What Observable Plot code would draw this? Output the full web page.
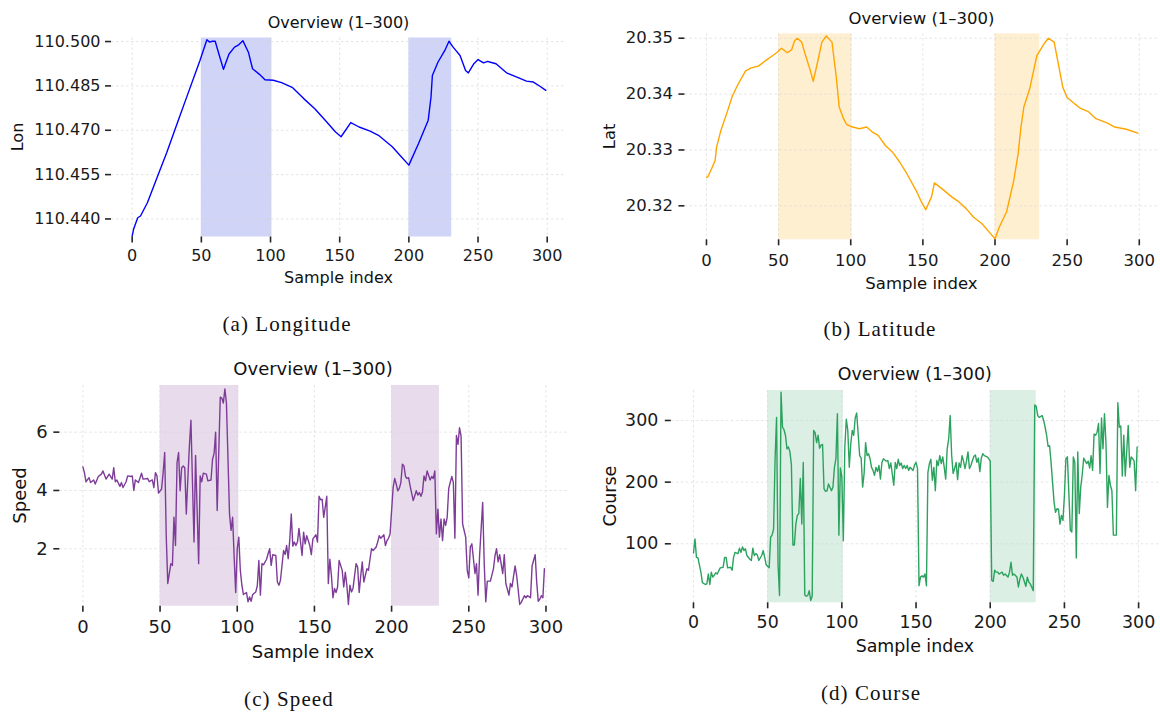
<!DOCTYPE html>
<html>
<head>
<meta charset="utf-8">
<script src="https://cdn.jsdelivr.net/npm/d3@7"></script>
<script src="https://cdn.jsdelivr.net/npm/@observablehq/plot@0.6"></script>
<style>
  html, body { margin: 0; padding: 0; background: #fff; }
  #root { position: relative; width: 1160px; height: 715px; overflow: hidden; background: #fff; }
  .panel { position: absolute; }
  #overlay { position: absolute; left: 0; top: 0; pointer-events: none; }
</style>
</head>
<body>
<div id="root"></div>
<script>
// ---------------- DATA ----------------
const xTicks = [0, 50, 100, 150, 200, 250, 300];
const highlightSpans = [[50, 101], [200, 231]];

const lonTicks = [110.44, 110.455, 110.47, 110.485, 110.5];
const latTicks = [20.32, 20.33, 20.34, 20.35];
const speedTicks = [2, 4, 6];
const courseTicks = [100, 200, 300];

// [sample index, longitude]
const lonData = [
  [0,110.4342],[1,110.4365],[4,110.4404],[6,110.4410],[11,110.4455],[18,110.4540],[25,110.4625],
  [34,110.4742],[39,110.4807],[49,110.4936],[54,110.5006],[56,110.4998],[58,110.5001],[60,110.5001],
  [63,110.4953],[66,110.4906],[70,110.4958],[74,110.4981],[77,110.4989],[80,110.5003],[84,110.4964],
  [87,110.4908],[92,110.4889],[96,110.4871],[102,110.4869],[108,110.4861],[116,110.4844],[124,110.4807],
  [132,110.4773],[140,110.4731],[147,110.4694],[151,110.4678],[158,110.4726],[164,110.4711],[172,110.4697],
  [178,110.4683],[188,110.4644],[195,110.4608],[200,110.4582],[207,110.4655],[214,110.4734],[216,110.4812],
  [217,110.4885],[221,110.4930],[226,110.4970],[229,110.5001],[232,110.4981],[237,110.4953],[241,110.4902],
  [243,110.4894],[247,110.4925],[250,110.4939],[254,110.4928],[257,110.4933],[259,110.4930],[263,110.4925],
  [271,110.4893],[279,110.4878],[285,110.4866],[290,110.4863],[295,110.4848],[299,110.4835]
];

// [sample index, latitude]
const latData = [
  [0,20.3251],[1,20.3252],[4,20.3269],[6,20.3281],[7,20.3305],[10,20.3335],[14,20.3365],[18,20.3397],
  [22,20.3418],[27,20.3441],[31,20.3447],[36,20.3450],[41,20.3460],[46,20.3469],[49,20.3475],[52,20.3482],
  [56,20.3474],[59,20.3479],[61,20.3495],[63,20.3500],[66,20.3493],[68,20.3475],[72,20.3442],[74,20.3423],
  [77,20.3457],[80,20.3493],[83,20.3504],[87,20.3493],[90,20.3430],[92,20.3377],[95,20.3356],[97,20.3346],
  [100,20.3342],[106,20.3338],[111,20.3341],[115,20.3332],[119,20.3326],[124,20.3308],[129,20.3296],
  [134,20.3278],[139,20.3257],[146,20.3224],[149,20.3207],[152,20.3193],[156,20.3216],[158,20.3241],
  [164,20.3229],[170,20.3216],[175,20.3207],[180,20.3195],[185,20.3180],[191,20.3168],[196,20.3153],
  [200,20.3141],[203,20.3162],[208,20.3189],[213,20.3245],[216,20.3293],[218,20.3341],[220,20.3377],
  [224,20.3409],[229,20.3469],[234,20.3490],[237,20.3500],[241,20.3493],[243,20.3466],[247,20.3412],
  [250,20.3394],[255,20.3383],[259,20.3375],[265,20.3368],[270,20.3356],[278,20.3348],[283,20.3341],
  [291,20.3337],[299,20.3330]
];

// [sample index, speed]
const speedData = [
  [0,4.81],[1,4.61],[2,4.30],[4,4.44],[5,4.27],[7,4.36],[8,4.22],[10,4.48],[12,4.56],[13,4.67],[15,4.39],
  [17,4.56],[19,4.39],[20,4.78],[21,4.30],[22,4.36],[24,4.14],[25,4.27],[26,4.10],[28,4.30],[29,4.50],
  [31,4.48],[32,4.50],[33,4.00],[34,4.36],[36,4.27],[38,4.59],[39,4.39],[42,4.41],[43,4.30],[45,4.36],
  [46,4.10],[47,4.61],[48,4.50],[49,3.91],[51,4.05],[52,4.61],[53,5.30],[54,2.45],[55,0.81],[57,1.49],
  [58,1.43],[59,3.08],[60,2.11],[61,4.95],[62,5.30],[63,3.99],[64,4.78],[65,4.84],[66,4.78],[67,3.19],
  [68,4.39],[69,5.52],[70,6.41],[71,4.27],[72,2.23],[73,5.20],[75,1.49],[76,4.50],[77,4.30],[78,4.59],
  [80,4.56],[81,4.33],[83,4.36],[84,5.07],[85,5.27],[86,6.00],[87,3.31],[89,7.20],[90,7.17],[91,7.00],
  [92,7.48],[93,7.00],[95,3.19],[96,2.63],[97,3.08],[98,1.72],[99,0.50],[100,2.00],[101,2.40],[102,1.26],
  [103,0.75],[104,0.43],[106,0.50],[107,0.18],[108,0.35],[109,0.20],[110,0.43],[112,0.52],[113,0.73],
  [114,1.60],[115,0.41],[116,1.49],[117,1.45],[119,1.64],[120,1.83],[121,2.00],[122,1.43],[123,1.80],
  [125,1.77],[126,0.86],[127,0.75],[128,0.92],[130,1.94],[131,1.80],[132,2.11],[133,1.66],[134,2.28],
  [135,3.19],[136,2.09],[137,2.23],[138,2.11],[139,2.23],[140,2.70],[142,1.77],[143,2.57],[144,2.17],
  [145,2.45],[147,2.11],[148,1.80],[149,2.34],[151,2.48],[152,2.23],[153,3.80],[154,3.68],[155,3.70],
  [156,3.08],[157,3.42],[158,3.80],[159,0.81],[160,1.64],[161,1.09],[162,0.32],[163,0.64],[164,0.50],
  [165,0.69],[166,1.60],[168,1.26],[169,0.69],[170,1.20],[171,0.75],[172,0.09],[173,0.75],[174,0.52],
  [175,0.64],[177,1.49],[178,1.37],[179,0.50],[180,1.07],[181,1.55],[182,0.86],[184,1.32],[185,1.26],
  [186,1.64],[187,2.00],[188,1.94],[190,2.06],[191,2.23],[192,2.45],[193,2.36],[195,2.48],[196,2.11],
  [197,2.28],[198,2.36],[199,2.51],[201,4.10],[202,4.41],[203,4.22],[204,3.99],[205,4.07],[206,4.27],
  [207,4.90],[208,4.84],[209,4.48],[210,4.41],[211,4.44],[212,4.16],[214,3.65],[215,3.82],[216,3.99],
  [217,3.84],[218,3.93],[219,3.80],[220,3.95],[221,4.50],[222,4.33],[223,4.67],[225,4.36],[226,4.48],
  [227,4.41],[228,4.67],[229,2.51],[230,3.36],[231,2.40],[232,3.02],[233,2.28],[234,3.02],[235,2.80],
  [236,3.08],[237,4.07],[239,4.48],[240,4.27],[241,2.36],[242,5.89],[243,5.58],[244,6.15],[245,5.86],
  [246,2.85],[248,2.40],[249,1.26],[250,1.00],[251,2.06],[252,2.17],[254,1.15],[255,1.49],[256,0.41],
  [257,1.77],[259,3.59],[260,1.49],[261,0.18],[262,0.89],[264,0.89],[266,1.32],[267,1.77],[268,2.00],
  [269,1.55],[270,1.80],[272,1.15],[273,1.80],[274,0.81],[276,0.41],[277,0.81],[278,0.69],[280,1.41],
  [281,1.09],[283,0.09],[284,0.16],[286,0.39],[287,0.32],[288,0.39],[290,0.32],[291,1.41],[293,1.80],
  [294,0.86],[295,0.20],[296,0.27],[297,0.39],[298,0.32],[299,1.32]
];

// [sample index, course]
const courseData = [
  [0,85],[1,108],[2,78],[3,77],[5,54],[6,37],[8,34],[9,35],[10,51],[11,34],[12,54],[13,46],[14,49],[15,53],
  [16,51],[18,61],[20,62],[21,78],[22,78],[23,61],[25,62],[26,57],[27,78],[28,86],[30,84],[31,93],[32,86],
  [33,95],[34,89],[35,92],[36,81],[38,75],[39,73],[40,93],[41,81],[42,84],[43,82],[44,73],[46,81],[47,89],
  [48,78],[49,66],[51,61],[52,111],[53,114],[54,124],[55,238],[56,305],[57,66],[58,16],[59,346],[60,289],
  [61,285],[62,276],[63,254],[64,257],[65,249],[66,228],[67,98],[68,98],[69,132],[70,146],[71,149],[72,206],
  [73,132],[74,232],[75,17],[76,15],[77,16],[78,24],[79,8],[80,15],[81,284],[82,280],[83,264],[84,276],
  [85,255],[86,260],[87,261],[88,189],[89,185],[90,186],[91,197],[93,186],[94,192],[95,224],[96,238],
  [97,311],[98,114],[99,223],[100,208],[101,105],[102,257],[103,302],[104,284],[105,224],[106,262],
  [107,284],[108,276],[109,304],[110,312],[111,278],[112,243],[113,239],[114,192],[115,214],[116,264],
  [117,243],[118,246],[119,238],[120,224],[121,219],[122,211],[123,224],[124,217],[125,227],[126,205],
  [127,232],[128,238],[130,234],[131,235],[132,222],[133,231],[134,213],[135,195],[136,232],[137,222],
  [138,237],[139,227],[140,231],[141,222],[142,227],[143,222],[144,227],[145,219],[146,224],[148,219],
  [149,228],[150,232],[151,222],[152,32],[153,46],[154,48],[155,46],[156,51],[157,32],[158,216],[159,230],
  [160,237],[161,203],[162,224],[163,186],[164,235],[165,227],[166,243],[167,230],[168,241],[169,224],
  [170,205],[171,254],[172,270],[173,308],[174,244],[175,214],[176,222],[177,232],[178,204],[179,231],
  [180,224],[181,243],[182,234],[183,222],[184,234],[185,249],[186,222],[187,227],[188,235],[189,242],
  [190,244],[191,232],[192,239],[193,217],[194,239],[195,246],[196,243],[198,241],[199,238],[200,234],
  [201,41],[202,39],[203,57],[204,54],[205,54],[206,51],[208,54],[209,49],[210,51],[212,46],[213,54],
  [214,70],[215,49],[216,51],[218,46],[219,30],[220,43],[221,51],[222,46],[224,31],[225,46],[226,38],
  [227,35],[229,24],[230,325],[231,323],[232,308],[233,305],[235,308],[236,300],[237,289],[238,276],
  [239,258],[240,259],[241,232],[242,200],[243,168],[244,151],[245,157],[246,156],[247,132],[248,146],
  [249,138],[250,178],[251,238],[252,241],[254,122],[255,119],[256,241],[257,232],[258,77],[259,249],
  [260,149],[261,192],[262,212],[263,239],[265,230],[266,234],[267,223],[268,243],[269,219],[270,278],
  [271,276],[272,281],[273,295],[274,214],[275,304],[276,254],[277,311],[278,264],[279,159],[280,211],
  [281,195],[282,186],[283,114],[284,114],[285,114],[286,329],[287,289],[288,291],[289,210],[290,276],
  [291,210],[292,251],[293,292],[294,224],[295,241],[296,238],[297,234],[298,186],[299,257]
];

// ---------------- LAYOUT ----------------
const FONT = "'DejaVu Sans', sans-serif";
const panels = [
  { data: lonData, yTicks: lonTicks, fmt: d3.format(".3f"), color: "#0000ff", fill: "#3344dd", fillOpacity: 0.23,
    left: 0, top: 0, width: 580, height: 300, mL: 111, mR: 14, mT: 37.5, mB: 63.5,
    xDomain: [-14.95, 313.95], yDomain: [110.4339, 110.5012], fs: 16, xPad: 7, yPad: 5,
    title: [338.5, 28], ylab: ["Lon", 23, 137], xlab: [338.5, 283], cap: ["(a) Longitude", 287, 331] },
  { data: latData, yTicks: latTicks, fmt: d3.format(".2f"), color: "#ffa500", fill: "#ffa500", fillOpacity: 0.18,
    left: 580, top: 0, width: 580, height: 300, mL: 104.4, mR: 1.1, mT: 33.3, mB: 60.7,
    xDomain: [-14.95, 313.95], yDomain: [20.31392, 20.35079], fs: 16.5, xPad: 8, yPad: 6,
    title: [921.5, 24], ylab: ["Lat", 615, 136.3], xlab: [921.5, 288.5], cap: ["(b) Latitude", 880, 336] },
  { data: speedData, yTicks: speedTicks, fmt: d3.format("d"), color: "#7d3c98", fill: "#7d3c98", fillOpacity: 0.18,
    left: 0, top: 355, width: 580, height: 300, mL: 59.3, mR: 13, mT: 30, mB: 49.3,
    xDomain: [-14.95, 313.95], yDomain: [0.03, 7.6], fs: 18, xPad: 8.5, yPad: 6,
    title: [313, 375], ylab: ["Speed", 25.5, 495.5], xlab: [313, 657.5], cap: ["(c) Speed", 289, 706] },
  { data: courseData, yTicks: courseTicks, fmt: d3.format("d"), color: "#2ca25f", fill: "#2ca25f", fillOpacity: 0.17,
    left: 580, top: 355, width: 580, height: 300, mL: 90.8, mR: 1.2, mT: 35, mB: 52.7,
    xDomain: [-14.95, 313.95], yDomain: [4.3, 348.6], fs: 17.4, xPad: 6.5, yPad: 7,
    title: [914.8, 380.4], ylab: ["Course", 616, 496.2], xlab: [914.8, 652], cap: ["(d) Course", 871, 700] }
];

const root = document.getElementById("root");
const GRID = { stroke: "#d6d6d6", strokeOpacity: 1, strokeWidth: 0.65, strokeDasharray: "2.5,2.5" };

for (const p of panels) {
  const chart = Plot.plot({
    width: p.width, height: p.height,
    marginLeft: p.mL, marginRight: p.mR, marginTop: p.mT, marginBottom: p.mB,
    style: { fontFamily: FONT, fontSize: p.fs + "px", color: "#1a1a1a", background: "transparent", overflow: "visible" },
    x: { domain: p.xDomain },
    y: { domain: p.yDomain },
    marks: [
      Plot.rect(highlightSpans, {
        x1: d => d[0], x2: d => d[1],
        y1: () => p.yDomain[0], y2: () => p.yDomain[1],
        fill: p.fill, fillOpacity: p.fillOpacity
      }),
      Plot.gridX(xTicks, GRID),
      Plot.gridY(p.yTicks, GRID),
      Plot.line(p.data, { x: d => d[0], y: d => d[1], stroke: p.color, strokeWidth: 1.4 }),
      Plot.axisX(xTicks, { tickSize: 6, tickPadding: p.xPad, tickFormat: d => String(d), label: null,
        stroke: "#262626", strokeWidth: 1.6, fill: "#1a1a1a", fontSize: p.fs }),
      Plot.axisY(p.yTicks, { tickSize: 6, tickPadding: p.yPad, tickFormat: p.fmt, label: null,
        stroke: "#262626", strokeWidth: 1.6, fill: "#1a1a1a", fontSize: p.fs })
    ]
  });
  const wrap = document.createElement("div");
  wrap.className = "panel";
  wrap.style.left = p.left + "px";
  wrap.style.top = p.top + "px";
  wrap.appendChild(chart);
  root.appendChild(wrap);
}

// ---------------- TEXT OVERLAY ----------------
const svg = d3.select(root).append("svg")
  .attr("id", "overlay").attr("width", 1160).attr("height", 715);

for (const p of panels) {
  svg.append("text").attr("x", p.title[0]).attr("y", p.title[1])
    .attr("text-anchor", "middle").attr("font-family", FONT).attr("font-size", p.fs)
    .attr("fill", "#111").text("Overview (1\u2013300)");
  svg.append("text").attr("transform", `translate(${p.ylab[1]},${p.ylab[2]}) rotate(-90)`)
    .attr("text-anchor", "middle").attr("font-family", FONT).attr("font-size", p.fs)
    .attr("fill", "#111").text(p.ylab[0]);
  svg.append("text").attr("x", p.xlab[0]).attr("y", p.xlab[1])
    .attr("text-anchor", "middle").attr("font-family", FONT).attr("font-size", p.fs)
    .attr("fill", "#111").text("Sample index");
  svg.append("text").attr("x", p.cap[1]).attr("y", p.cap[2])
    .attr("text-anchor", "middle").attr("font-family", "'Liberation Serif', serif").attr("font-size", 21)
    .attr("letter-spacing", "1.1px").attr("fill", "#111").text(p.cap[0]);
}
</script>
</body>
</html>
